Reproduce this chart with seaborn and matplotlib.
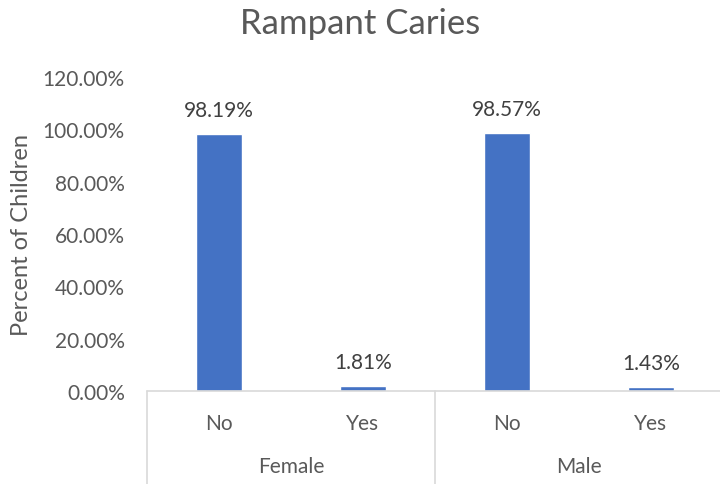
import matplotlib
matplotlib.use('Agg')
import matplotlib.pyplot as plt
import matplotlib.transforms as mtransforms
import seaborn as sns
import pandas as pd

# data
groups = ['Female', 'Female', 'Male', 'Male']
answers = ['No', 'Yes', 'No', 'Yes']
percent = [98.19, 1.81, 98.57, 1.43]
group_names = ['Female', 'Male']

sns.set_theme(style='white')
plt.rcParams['font.family'] = ['Lato', 'DejaVu Sans']

text_col = '#595959'
line_col = '#D9D9D9'
bar_col = '#4472C4'

df = pd.DataFrame({'group': groups, 'answer': answers, 'pct': percent})
df['pos'] = [f'{g}-{a}' for g, a in zip(groups, answers)]

fig = plt.figure(figsize=(7.2, 4.85), dpi=100)
ax = fig.add_axes([147 / 720, 1 - 392 / 485, 576 / 720, (392 - 78) / 485])

sns.barplot(data=df, x='pos', y='pct', color=bar_col, width=0.32, saturation=1, ax=ax)

ax.set_ylim(0, 120)
ax.set_xlim(-0.5, len(df) - 0.5)
ax.set_yticks(range(0, 121, 20))
ax.set_yticklabels([f'{v:.2f}%' for v in range(0, 121, 20)], fontsize=15, color=text_col)
ax.set_xticks(range(len(df)))
ax.set_xticklabels(answers, fontsize=15, color=text_col)
ax.tick_params(axis='x', length=0, pad=16)
ax.tick_params(axis='y', length=0, pad=16)
ax.set_xlabel('')
ax.set_ylabel('Percent of Children', fontsize=17, color=text_col, labelpad=8)
for s in ax.spines.values():
    s.set_visible(False)

# bottom axis line and group separators
ax.axhline(0, color=line_col, lw=1.2, clip_on=False)
trans = mtransforms.blended_transform_factory(ax.transData, fig.transFigure)
bottom_fig = 1 - 392 / 485
for xs in [-0.5, 1.5]:
    ax.plot([xs, xs], [bottom_fig, 0], color=line_col, lw=1.2, transform=trans, clip_on=False)
for i, g in enumerate(group_names):
    ax.text(2 * i + 0.5, 1 - 467 / 485, g, transform=trans, ha='center', va='center',
            fontsize=15, color=text_col)

# data labels
for i, v in enumerate(percent):
    ax.annotate(f'{v:.2f}%', (i, v), xytext=(0, 10), textcoords='offset points',
                ha='center', va='bottom', fontsize=15, color='#404040')

fig.text(0.5, 1 - 24 / 485, 'Rampant Caries', ha='center', va='center', fontsize=25, color=text_col)

plt.savefig('out.png', dpi=100)
